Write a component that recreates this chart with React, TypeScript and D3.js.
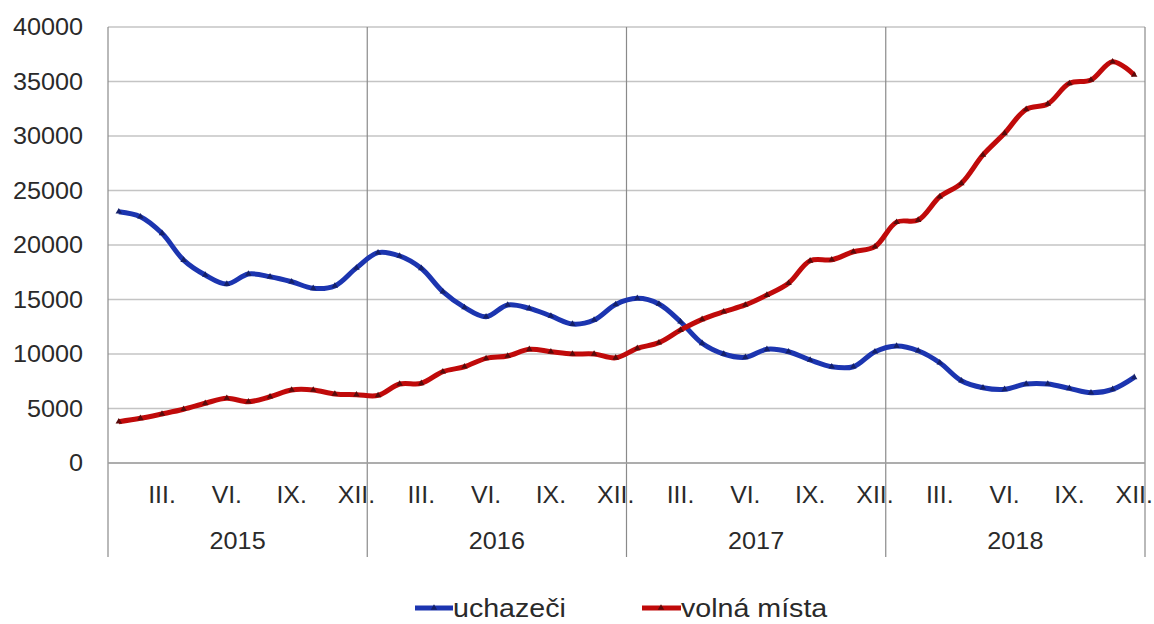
import React from 'react';
import * as d3 from 'd3';

const years = ['2015', '2016', '2017', '2018'];
const monthLabels = ['', '', 'III.', '', '', 'VI.', '', '', 'IX.', '', '', 'XII.'];
const yTicks = [0, 5000, 10000, 15000, 20000, 25000, 30000, 35000, 40000];

const uchazeci = [
  23050, 22600, 21070, 18620, 17250, 16420, 17340, 17090, 16630, 16030, 16240, 17900,
  19300, 18990, 17860, 15720, 14280, 13420, 14500, 14190, 13490, 12750, 13120, 14550,
  15110, 14590, 12960, 10980, 10000, 9700, 10430, 10210, 9450, 8830, 8830, 10210,
  10730, 10300, 9200, 7550, 6910, 6760, 7250, 7250, 6850, 6450, 6760, 7860,
];
const volnaMista = [
  3790, 4100, 4500, 4930, 5480, 5940, 5620, 6080, 6700, 6700, 6330, 6270,
  6200, 7250, 7310, 8380, 8830, 9600, 9820, 10430, 10210, 10000, 10000, 9650,
  10520, 11040, 12200, 13180, 13880, 14500, 15410, 16490, 18550, 18650, 19380, 19850,
  22100, 22290, 24430, 25660, 28260, 30250, 32450, 32940, 34830, 35140, 36820, 35600,
];

const months = years.flatMap((y) => monthLabels.map((m, i) => `${y}-${i + 1}`));

const W = 1154;
const H = 624;
const left = 108;
const right = 1145;
const top = 27;
const bottom = 463;
const font = 'Liberation Sans, Arial, sans-serif';

// the source bitmap is a bit wider than tall, so stretch the text a little
const Label = ({ x, y, anchor, size, sx, children }: any) => (
  <text
    transform={`translate(${x},${y}) scale(${sx},1)`}
    textAnchor={anchor}
    fontFamily={font}
    fontSize={size}
    fill="#2a2a2a"
  >
    {children}
  </text>
);

export default function App() {
  const x = d3.scaleBand().domain(months).range([left, right]);
  const y = d3.scaleLinear().domain([0, 40000]).range([bottom, top]);
  const yearX = d3.scaleBand().domain(years).range([left, right]);
  const cx = (i: number) => (x(months[i]) as number) + x.bandwidth() / 2;

  const line = d3
    .line<number>()
    .x((_, i) => cx(i))
    .y((d) => y(d))
    .curve(d3.curveCatmullRom.alpha(0.5));

  const tri = d3.symbol().type(d3.symbolTriangle).size(18)() || '';

  const series = [
    { name: 'uchazeči', data: uchazeci, color: '#1c35b0', mark: '#14206a' },
    { name: 'volná místa', data: volnaMista, color: '#c00a0a', mark: '#5a0a0a' },
  ];

  return (
    <svg width={W} height={H} style={{ position: 'absolute', left: 0, top: 0, background: '#fff' }}>
      {yTicks.map((t) => (
        <g key={t}>
          <line x1={left} x2={right} y1={y(t)} y2={y(t)} stroke="#c4c4c4" strokeWidth={1.5} />
          <Label x={83} y={y(t) + 8} anchor="end" size={24} sx={1.05}>
            {t}
          </Label>
        </g>
      ))}
      {years.map((yr) => (
        <line key={yr} x1={yearX(yr)} x2={yearX(yr)} y1={top} y2={557} stroke="#8a8a8a" strokeWidth={1.2} />
      ))}
      <line x1={right} x2={right} y1={top} y2={557} stroke="#8a8a8a" strokeWidth={1.2} />
      <line x1={left} x2={right} y1={bottom} y2={bottom} stroke="#a0a0a0" strokeWidth={1.5} />
      {months.map((m, i) =>
        monthLabels[i % 12] ? (
          <Label key={m} x={cx(i)} y={503} anchor="middle" size={23} sx={1.08}>
            {monthLabels[i % 12]}
          </Label>
        ) : null
      )}
      {years.map((yr) => (
        <Label key={yr} x={(yearX(yr) as number) + yearX.bandwidth() / 2} y={549} anchor="middle" size={24} sx={1.05}>
          {yr}
        </Label>
      ))}
      {series.map((s) => (
        <g key={s.name}>
          <path d={line(s.data) || ''} fill="none" stroke={s.color} strokeWidth={5} strokeLinejoin="round" />
          {s.data.map((v, i) => (
            <path key={i} d={tri} transform={`translate(${cx(i)},${y(v)})`} fill={s.mark} />
          ))}
        </g>
      ))}
      <g>
        <line x1={415} x2={453} y1={608} y2={608} stroke={series[0].color} strokeWidth={5} />
        <path d={tri} transform="translate(434,608)" fill={series[0].mark} />
        <Label x={453} y={617} anchor="start" size={26} sx={1.1}>
          uchazeči
        </Label>
        <line x1={642} x2={681} y1={608} y2={608} stroke={series[1].color} strokeWidth={5} />
        <path d={tri} transform="translate(661,608)" fill={series[1].mark} />
        <Label x={681} y={617} anchor="start" size={26} sx={1.1}>
          volná místa
        </Label>
      </g>
    </svg>
  );
}
